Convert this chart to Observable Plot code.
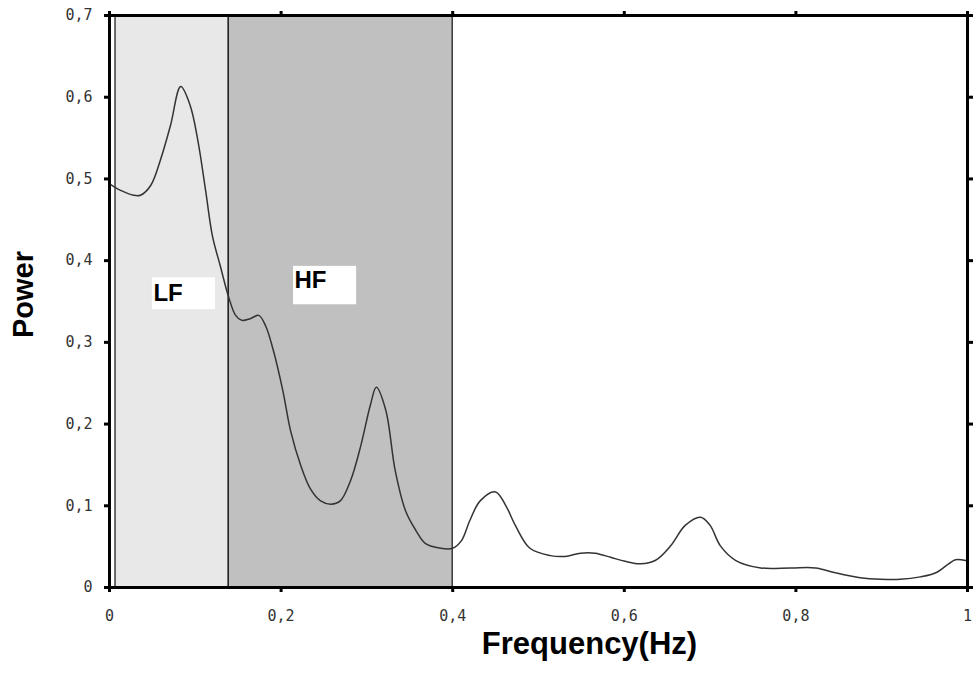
<!DOCTYPE html>
<html>
<head>
<meta charset="utf-8">
<script src="https://cdn.jsdelivr.net/npm/d3@7"></script>
<script src="https://cdn.jsdelivr.net/npm/@observablehq/plot@0.6"></script>
<style>
  html, body { margin: 0; padding: 0; background: #fff; }
  #chart svg { display: block; }
</style>
</head>
<body>
<div id="chart"></div>
<script>
// Spectrum
const freq = [0.000, 0.013, 0.028, 0.036, 0.048, 0.059, 0.071, 0.083, 0.094, 0.103,
  0.112, 0.120, 0.129, 0.139, 0.147, 0.154, 0.164, 0.174, 0.182, 0.191,
  0.202, 0.211, 0.223, 0.234, 0.246, 0.258, 0.269, 0.281, 0.293, 0.304,
  0.311, 0.322, 0.333, 0.345, 0.357, 0.368, 0.386, 0.400, 0.410, 0.420,
  0.432, 0.450, 0.462, 0.473, 0.490, 0.514, 0.531, 0.549, 0.566, 0.584,
  0.601, 0.619, 0.636, 0.654, 0.671, 0.689, 0.700, 0.712, 0.730, 0.759,
  0.794, 0.823, 0.846, 0.875, 0.899, 0.922, 0.945, 0.963, 0.978, 0.986, 0.998];
const power = [0.494, 0.486, 0.480, 0.480, 0.492, 0.522, 0.565, 0.613, 0.590, 0.547,
  0.486, 0.430, 0.394, 0.355, 0.333, 0.327, 0.329, 0.333, 0.320, 0.290,
  0.241, 0.192, 0.149, 0.121, 0.106, 0.102, 0.106, 0.131, 0.174, 0.223,
  0.245, 0.217, 0.143, 0.094, 0.070, 0.054, 0.048, 0.048, 0.057, 0.082,
  0.106, 0.117, 0.100, 0.076, 0.048, 0.039, 0.038, 0.042, 0.042, 0.037,
  0.032, 0.029, 0.033, 0.051, 0.076, 0.086, 0.076, 0.051, 0.033, 0.024,
  0.024, 0.024, 0.018, 0.012, 0.010, 0.010, 0.013, 0.018, 0.029, 0.034, 0.033];

// Frequency bands
const bandNames = ["LF", "HF"];
const bandStart = [0.007, 0.139];
const bandEnd = [0.139, 0.400];

// Band label boxes (data coordinates)
const labelX1 = [0.050, 0.2145];
const labelX2 = [0.1235, 0.288];
const labelY1 = [0.340, 0.346];
const labelY2 = [0.379, 0.393];

// Ticks
const xTicks = [0, 0.2, 0.4, 0.6, 0.8, 1];
const xTickLabels = ["0", "0,2", "0,4", "0,6", "0,8", "1"];
const yTicks = [0, 0.1, 0.2, 0.3, 0.4, 0.5, 0.6, 0.7];
const yTickLabels = ["0", "0,1", "0,2", "0,3", "0,4", "0,5", "0,6", "0,7"];

const spectrum = freq.map((f, i) => ({f, p: power[i]}));
const bands = bandNames.map((name, i) => ({name, x1: bandStart[i], x2: bandEnd[i]}));
const labels = bandNames.map((name, i) => ({name, x1: labelX1[i], x2: labelX2[i], y1: labelY1[i], y2: labelY2[i]}));

const tickFont = "DejaVu Sans Mono, monospace";
const titleFont = "Liberation Sans, Arial, sans-serif";

const chart = Plot.plot({
  width: 977,
  height: 684,
  marginLeft: 109,
  marginRight: 10,
  marginTop: 15,
  marginBottom: 97,
  style: {background: "#fff", fontFamily: tickFont, fontSize: "15px", overflow: "visible"},
  x: {domain: [0, 1]},
  y: {domain: [0, 0.7]},
  marks: [
    Plot.rect(bands, {
      x1: "x1", x2: "x2", y1: 0, y2: 0.7,
      fill: d => d.name === "LF" ? "#e8e8e8" : "#c0c0c0",
      stroke: "#111", strokeWidth: 1.2
    }),
    Plot.line(spectrum, {x: "f", y: "p", stroke: "#333", strokeWidth: 1.5, curve: "catmull-rom"}),
    Plot.rect(labels, {x1: "x1", x2: "x2", y1: "y1", y2: "y2", fill: "#fff"}),
    Plot.text(labels, {
      x: "x1", y: d => (d.y1 + d.y2) / 2 + (d.name === "HF" ? 0.006 : 0), text: "name",
      textAnchor: "start", fontSize: 24, fontWeight: "bold", fontFamily: titleFont, fill: "#000", dx: 1
    }),
    Plot.frame({stroke: "#000", strokeWidth: 3}),
    Plot.axisX({
      anchor: "bottom", ticks: xTicks, tickSize: 5, tickPadding: 18, strokeWidth: 3,
      tickFormat: (d, i) => xTickLabels[i], fill: "#333", label: null
    }),
    Plot.axisX({anchor: "top", ticks: xTicks, tickSize: 5, strokeWidth: 3, tickFormat: () => "", label: null}),
    Plot.axisY({
      anchor: "left", ticks: yTicks, tickSize: 5, tickPadding: 12, strokeWidth: 3,
      tickFormat: (d, i) => yTickLabels[i], fill: "#333", label: null
    }),
    Plot.axisY({anchor: "right", ticks: yTicks, tickSize: 5, strokeWidth: 3, tickFormat: () => "", label: null}),
    Plot.text(["Frequency(Hz)"], {
      frameAnchor: "bottom", dx: 51, dy: 57, fontSize: 31, fontWeight: "bold",
      fontFamily: titleFont, fill: "#000", lineAnchor: "middle", textAnchor: "middle"
    }),
    Plot.text(["Power"], {
      frameAnchor: "left", dx: -86, dy: -7, rotate: -90, fontSize: 29, fontWeight: "bold",
      fontFamily: titleFont, fill: "#000", lineAnchor: "middle", textAnchor: "middle"
    })
  ]
});
document.getElementById("chart").appendChild(chart);
</script>
</body>
</html>
